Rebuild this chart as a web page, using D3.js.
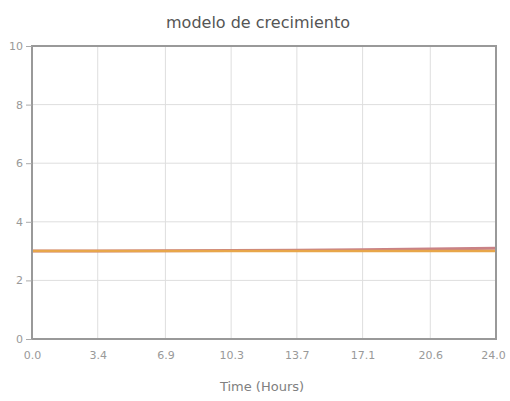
<!DOCTYPE html>
<html><head><meta charset="utf-8">
<script src="https://cdn.jsdelivr.net/npm/d3@7"></script>
<style>body{margin:0;background:#fff}svg{display:block}</style>
</head><body>
<svg id="c" width="510" height="401"></svg>
<script>
const times = [0, 3.4, 6.9, 10.3, 13.7, 17.1, 20.6, 24.0];
const xTickLabels = ["0.0","3.4","6.9","10.3","13.7","17.1","20.6","24.0"];
const yTicks = [0, 2, 4, 6, 8, 10];
const seriesRed = [3.0, 3.0, 3.01, 3.02, 3.03, 3.05, 3.07, 3.1];
const seriesOrange = [3.0, 3.0, 3.0, 3.0, 3.0, 3.0, 3.0, 3.0];
const title = "modelo de crecimiento";
const xLabel = "Time (Hours)";

const svg = d3.select("#c");
const L = 32, R = 496, T = 46, B = 339;
const x = d3.scaleLinear().domain([0, 24]).range([L, R]);
const y = d3.scaleLinear().domain([0, 10]).range([B, T]);
const font = "'DejaVu Sans', sans-serif";

// grid
svg.append("g").selectAll("line").data(times).join("line")
  .attr("x1", d => x(d)).attr("x2", d => x(d)).attr("y1", T).attr("y2", B)
  .attr("stroke", "#dedede").attr("stroke-width", 1);
svg.append("g").selectAll("line").data(yTicks).join("line")
  .attr("x1", L).attr("x2", R).attr("y1", d => y(d)).attr("y2", d => y(d))
  .attr("stroke", "#dedede").attr("stroke-width", 1);

// lines
const line = d3.line().x((d, i) => x(times[i])).y(d => y(d));
svg.append("path").datum(seriesRed).attr("d", line)
  .attr("fill", "none").attr("stroke", "#c98286").attr("stroke-width", 3);
svg.append("path").datum(seriesOrange).attr("d", line)
  .attr("fill", "none").attr("stroke", "#e8a64a").attr("stroke-width", 2.5);

// frame
svg.append("rect").attr("x", L).attr("y", T).attr("width", R - L).attr("height", B - T)
  .attr("fill", "none").attr("stroke", "#999").attr("stroke-width", 2);

// axes
const yAxis = d3.axisLeft(y).tickValues(yTicks).tickSize(6).tickPadding(3);
const gy = svg.append("g").attr("transform", `translate(${L},0)`).call(yAxis);
gy.select(".domain").remove();
gy.selectAll("line").attr("stroke", "#aaa");
gy.selectAll("text").attr("fill", "#999").style("font-family", font).style("font-size", "11px");

const xAxis = d3.axisBottom(x).tickValues(times).tickFormat((d, i) => xTickLabels[i]).tickSize(0).tickPadding(12);
const gx = svg.append("g").attr("transform", `translate(0,${B})`).call(xAxis);
gx.select(".domain").remove();
gx.selectAll("text").attr("fill", "#999").style("font-family", font).style("font-size", "11px");
gx.selectAll(".tick").filter((d, i) => i === times.length - 1).select("text").attr("dx", "-3");

svg.append("text").attr("x", 258).attr("y", 28).attr("text-anchor", "middle")
  .attr("fill", "#555").style("font-family", font).style("font-size", "16px").text(title);
svg.append("text").attr("x", 262).attr("y", 391).attr("text-anchor", "middle")
  .attr("fill", "#808080").style("font-family", font).style("font-size", "13px").text(xLabel);
</script>
</body></html>
